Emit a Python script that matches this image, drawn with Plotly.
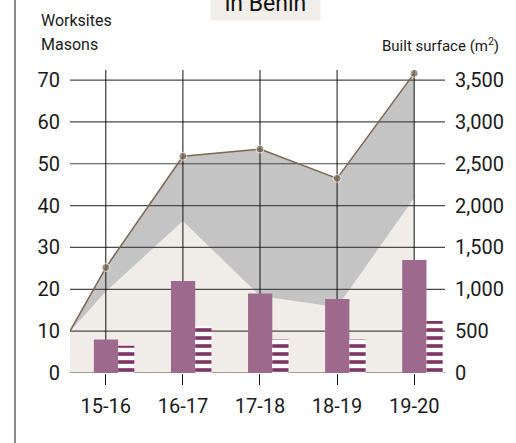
import plotly.graph_objects as go

# --- data ---
categories = ["15-16", "16-17", "17-18", "18-19", "19-20"]
masons = [8, 22, 19, 17.7, 27]              # solid bars (left axis)
worksites = [6.5, 11.2, 8, 8, 12.4]         # striped bars (left axis)
built_surface = [1260, 2590, 2675, 2325, 3580]  # grey area + line (right axis, m2)
built_surface_start = 500
light_band = [19.5, 36.3, 18.4, 15.8, 41.8]     # light beige area (left axis)
light_band_start = 10

left_ticks = [0, 10, 20, 30, 40, 50, 60, 70]
right_ticks = [0, 500, 1000, 1500, 2000, 2500, 3000, 3500]

FONT = "Roboto, Liberation Sans, sans-serif"
PURPLE = "#9d6a8d"
STRIPE = "#7e3364"
BROWN = "#7b6651"

x_cat = list(range(len(categories)))
x_range = [-0.4645, 4.40]
y_left_range = [0, 72.4]
y_right_range = [0, 72.4 * 50]

x_area = [x_range[0]] + x_cat

fig = go.Figure()

# grey area (built surface) on the base (right) axis
fig.add_trace(go.Scatter(
    x=x_area, y=[built_surface_start] + built_surface, yaxis="y",
    mode="lines", line=dict(width=0), fill="tozeroy", fillcolor="#c4c4c4",
    hoverinfo="skip", showlegend=False))

# light beige area on the left axis
fig.add_trace(go.Scatter(
    x=x_area, y=[light_band_start] + light_band, yaxis="y2",
    mode="lines", line=dict(width=0), fill="tozeroy", fillcolor="#f0ede8",
    hoverinfo="skip", showlegend=False))

# grid lines drawn above the areas but below the bars
hx, hy = [], []
for t in left_ticks:
    hx += [x_range[0], x_range[1], None]
    hy += [t, t, None]
fig.add_trace(go.Scatter(x=hx, y=hy, yaxis="y2", mode="lines",
                         line=dict(color="#4a4a4a", width=1.2),
                         hoverinfo="skip", showlegend=False))
vx, vy = [], []
for c in x_cat:
    vx += [c, c, None]
    vy += [y_left_range[0], y_left_range[1], None]
fig.add_trace(go.Scatter(x=vx, y=vy, yaxis="y2", mode="lines",
                         line=dict(color="#111111", width=1),
                         hoverinfo="skip", showlegend=False))

# bars
fig.add_trace(go.Bar(
    x=x_cat, y=masons, yaxis="y3", width=0.315, offset=-0.155,
    marker=dict(color=PURPLE, line=dict(width=0)), name="Masons", showlegend=False))
fig.add_trace(go.Bar(
    x=x_cat, y=worksites, yaxis="y3", width=0.21, offset=0.16,
    marker=dict(color="white", line=dict(width=0),
                pattern=dict(shape="-", fillmode="overlay", fgcolor=STRIPE,
                             fgopacity=1, size=8, solidity=0.45)),
    name="Worksites", showlegend=False))

# built surface line with dots
fig.add_trace(go.Scatter(
    x=x_area, y=[built_surface_start] + built_surface, yaxis="y4",
    mode="lines+markers", line=dict(color=BROWN, width=1.5),
    marker=dict(color=BROWN, size=[0] + [8] * len(categories)),
    name="Built surface", showlegend=False))

tickfont = dict(family=FONT, size=20, color="#1a1a1a")

fig.update_layout(
    width=516, height=443,
    margin=dict(l=70, r=69, t=70, b=70),
    paper_bgcolor="white", plot_bgcolor="white",
    barmode="overlay",
    font=dict(family=FONT, color="#1a1a1a"),
    xaxis=dict(range=x_range, tickvals=x_cat, ticktext=categories,
               ticks="outside", ticklen=11, tickcolor="#111111", tickwidth=1,
               showgrid=False, zeroline=False, showline=False,
               tickfont=tickfont, ticklabelstandoff=4, fixedrange=True),
    yaxis=dict(range=y_right_range, side="right", tickvals=right_ticks,
               tickformat=",", showgrid=False, zeroline=False, showline=False,
               ticks="", tickfont=tickfont, ticklabelstandoff=9),
    yaxis2=dict(range=y_left_range, overlaying="y", side="left",
                tickvals=left_ticks, showgrid=False, zeroline=False,
                showline=False, ticks="", tickfont=tickfont, ticklabelstandoff=9),
    yaxis3=dict(range=y_left_range, overlaying="y", visible=False),
    yaxis4=dict(range=y_right_range, overlaying="y", visible=False),
    shapes=[dict(type="line", xref="paper", yref="paper",
                 x0=-0.1467, x1=-0.1467, y0=-0.25, y1=1.25,
                 line=dict(color="#8a8a8a", width=2))],
    annotations=[
        dict(text="Worksites", xref="paper", yref="paper", x=-0.083, y=1.165,
             xanchor="left", yanchor="middle", showarrow=False,
             font=dict(family=FONT, size=16, color="#1a1a1a")),
        dict(text="Masons", xref="paper", yref="paper", x=-0.083, y=1.083,
             xanchor="left", yanchor="middle", showarrow=False,
             font=dict(family=FONT, size=16, color="#1a1a1a")),
        dict(text="Built surface (m<sup>2</sup>)", xref="paper", yref="paper",
             x=1.15, y=1.083, xanchor="right", yanchor="middle", showarrow=False,
             font=dict(family=FONT, size=15, color="#1a1a1a")),
        dict(text="in Benin", xref="paper", yref="paper", x=0.521, y=1.162,
             xanchor="center", yanchor="bottom", showarrow=False,
             width=103, borderpad=3, bgcolor="#f1eeea",
             font=dict(family=FONT, size=23, color="#111111")),
    ],
)

fig.write_html("out.html", config={"displayModeBar": False},
               post_script="document.body.style.margin='0';")
